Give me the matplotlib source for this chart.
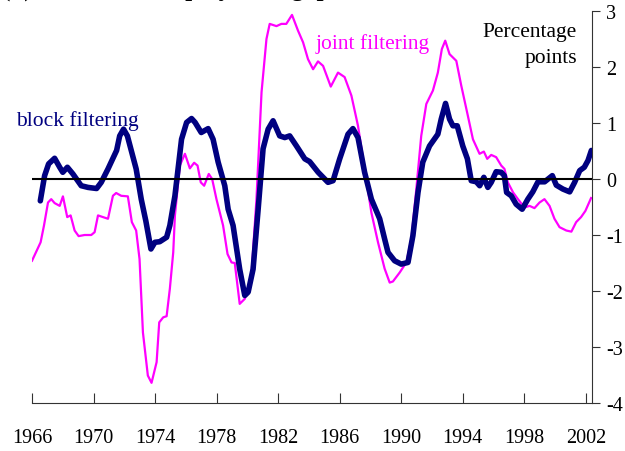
import numpy as np
import matplotlib
matplotlib.use("Agg")
import matplotlib.pyplot as plt

plt.rcParams['font.family'] = ['Liberation Serif', 'DejaVu Serif']
plt.rcParams['axes.unicode_minus'] = False

# block filtering (navy) - decimal year, percentage points
block_years = [1966.54, 1966.82, 1967.08, 1967.47, 1967.80, 1968.00, 1968.30, 1968.66,
               1969.20, 1969.64, 1970.20, 1970.50, 1970.94, 1971.50, 1971.70, 1971.95,
               1972.20, 1972.77, 1973.10, 1973.40, 1973.73, 1973.99, 1974.30, 1974.75,
               1974.96, 1975.29, 1975.72, 1976.05, 1976.37, 1976.60, 1977.00, 1977.45,
               1977.77, 1978.10, 1978.53, 1978.75, 1979.07, 1979.50, 1979.83, 1980.05,
               1980.37, 1980.70, 1981.02, 1981.35, 1981.67, 1982.10, 1982.43, 1982.75,
               1983.19, 1983.73, 1984.05, 1984.60, 1985.24, 1985.57, 1986.00, 1986.54,
               1986.86, 1987.19, 1987.62, 1988.06, 1988.60, 1988.92, 1989.14, 1989.57,
               1990.00, 1990.44, 1990.76, 1991.09, 1991.40, 1991.84, 1992.38, 1992.60,
               1992.88, 1993.14, 1993.36, 1993.64, 1994.00, 1994.30, 1994.55, 1994.88,
               1995.10, 1995.37, 1995.63, 1995.85, 1996.17, 1996.50, 1996.70, 1996.85,
               1997.15, 1997.47, 1997.86, 1998.23, 1998.55, 1998.89, 1999.32, 1999.82,
               2000.08, 2000.51, 2000.95, 2001.27, 2001.60, 2001.90, 2002.14, 2002.36]
block_vals = [-0.39, 0.06, 0.27, 0.37, 0.21, 0.12, 0.21, 0.09,
              -0.12, -0.15, -0.17, -0.06, 0.18, 0.51, 0.77, 0.89,
              0.77, 0.18, -0.36, -0.75, -1.25, -1.13, -1.12, -1.04,
              -0.83, -0.30, 0.71, 1.01, 1.08, 1.01, 0.83, 0.90,
              0.71, 0.30, -0.12, -0.54, -0.83, -1.61, -2.08, -2.02,
              -1.61, -0.54, 0.54, 0.89, 1.04, 0.77, 0.74, 0.77,
              0.59, 0.36, 0.31, 0.12, -0.06, -0.03, 0.36, 0.80,
              0.90, 0.74, 0.12, -0.36, -0.71, -1.07, -1.31, -1.46,
              -1.52, -1.49, -1.01, -0.24, 0.30, 0.59, 0.80, 1.07,
              1.35, 1.07, 0.95, 0.95, 0.59, 0.36, -0.03, -0.05,
              -0.12, 0.03, -0.15, -0.06, 0.13, 0.12, 0.06, -0.24,
              -0.30, -0.45, -0.54, -0.36, -0.23, -0.05, -0.05, 0.06,
              -0.11, -0.18, -0.23, -0.06, 0.15, 0.21, 0.33, 0.51]

# joint filtering (magenta)
joint_years = [1966.00, 1966.56, 1966.78, 1967.04, 1967.25, 1967.47, 1967.80, 1968.01,
               1968.29, 1968.51, 1968.77, 1969.03, 1969.42, 1969.85, 1970.07, 1970.29,
               1970.61, 1970.94, 1971.26, 1971.47, 1971.80, 1972.23, 1972.49, 1972.77,
               1972.99, 1973.21, 1973.53, 1973.77, 1974.10, 1974.27, 1974.53, 1974.75,
               1974.96, 1975.18, 1975.29, 1975.61, 1975.94, 1976.26, 1976.54, 1976.76,
               1976.97, 1977.19, 1977.49, 1977.71, 1977.99, 1978.42, 1978.71, 1978.97,
               1979.18, 1979.50, 1979.83, 1980.26, 1980.59, 1980.92, 1981.24, 1981.45,
               1981.89, 1982.21, 1982.53, 1982.90, 1983.29, 1983.62, 1983.94, 1984.27,
               1984.59, 1984.92, 1985.42, 1985.89, 1986.32, 1986.76, 1987.19, 1987.62,
               1988.06, 1988.49, 1988.92, 1989.25, 1989.46, 1989.90, 1990.33, 1990.66,
               1990.98, 1991.30, 1991.63, 1992.06, 1992.38, 1992.64, 1992.86, 1993.14,
               1993.58, 1993.90, 1994.33, 1994.66, 1995.09, 1995.37, 1995.59, 1995.85,
               1996.17, 1996.50, 1996.71, 1996.93, 1997.27, 1997.59, 1998.01, 1998.34,
               1998.66, 1998.99, 1999.31, 1999.64, 1999.96, 2000.29, 2000.73, 2001.06,
               2001.37, 2001.69, 2001.97, 2002.34]
joint_vals = [-1.46, -1.13, -0.83, -0.42, -0.36, -0.43, -0.48, -0.31,
              -0.68, -0.65, -0.92, -1.02, -1.00, -1.00, -0.95, -0.65,
              -0.68, -0.71, -0.30, -0.25, -0.30, -0.31, -0.77, -0.92,
              -1.43, -2.74, -3.51, -3.64, -3.27, -2.56, -2.47, -2.45,
              -1.96, -1.31, -0.65, 0.24, 0.45, 0.19, 0.29, 0.24,
              -0.06, -0.12, 0.09, 0.00, -0.36, -0.83, -1.34, -1.49,
              -1.50, -2.23, -2.14, -1.73, -0.36, 1.55, 2.50, 2.77,
              2.73, 2.77, 2.77, 2.93, 2.65, 2.44, 2.14, 1.96,
              2.10, 2.02, 1.65, 1.90, 1.82, 1.49, 0.95, 0.18,
              -0.60, -1.13, -1.60, -1.85, -1.83, -1.67, -1.49, -1.07,
              -0.18, 0.77, 1.34, 1.58, 1.90, 2.32, 2.47, 2.23,
              2.11, 1.67, 1.13, 0.71, 0.45, 0.49, 0.36, 0.43,
              0.39, 0.24, 0.18, -0.06, -0.24, -0.36, -0.51, -0.48,
              -0.52, -0.42, -0.36, -0.48, -0.71, -0.86, -0.92, -0.94,
              -0.77, -0.68, -0.57, -0.34]

year_ticks = list(range(1966, 2003, 4))
value_ticks = [-4, -3, -2, -1, 0, 1, 2, 3]

fig = plt.figure(figsize=(6.25, 4.52), dpi=100)
ax = fig.add_axes([32 / 625, 1 - 404 / 452, 560 / 625, 392 / 452])

ax.plot(joint_years, joint_vals, color='#FF00FF', lw=1.6, zorder=2)
ax.plot(block_years, block_vals, color='#000080', lw=4, solid_joinstyle='round',
        solid_capstyle='round', zorder=3)
ax.axhline(0, color='black', lw=1.5, zorder=4)

ax.set_xlim(1966, 2002.4)
ax.set_ylim(-4, 3)

# only the right y axis and the bottom x axis
ax.spines['left'].set_visible(False)
ax.spines['top'].set_visible(False)
ax.spines['right'].set_color('#333333')
ax.spines['bottom'].set_color('#333333')
ax.yaxis.tick_right()
ax.set_yticks(value_ticks)
ax.set_yticklabels([str(v) for v in value_ticks])
ax.set_xticks(year_ticks)
ax.set_xticklabels([str(y) for y in year_ticks])
ax.tick_params(axis='y', direction='out', length=6, pad=4, labelsize=14.5, color='#333333')
ax.tick_params(axis='x', direction='in', length=7, pad=18, labelsize=14.5, color='#333333')

# series labels and unit
fig.text(16 / 625, 1 - 121 / 452, 'block filtering', color='#000080', fontsize=15.5,
         va='center', ha='left')
fig.text(316 / 625, 1 - 44 / 452, 'joint filtering', color='#FF00FF', fontsize=15.5,
         va='center', ha='left')
fig.text(577 / 625, 1 - 45 / 452, 'Percentage\npoints', color='black', fontsize=15.5,
         va='center', ha='right', linespacing=1.5)

# title, mostly cut off at the top of the picture
fig.text(2 / 625, 1 + 4 / 452, '(b) Estimated employment gap', fontsize=18,
         fontweight='bold', va='baseline', ha='left')

fig.savefig('out.png', dpi=100)
